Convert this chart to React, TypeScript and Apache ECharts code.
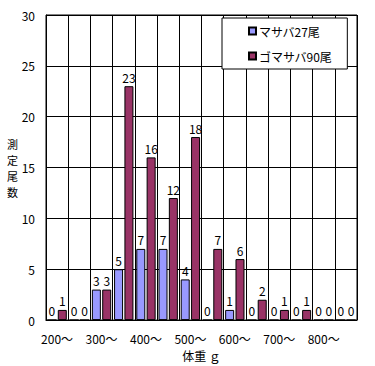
import React, { useEffect, useRef } from "react";
import * as echarts from "echarts";

const categories = ["200～", "250～", "300～", "350～", "400～", "450～", "500～", "550～", "600～", "650～", "700～", "750～", "800～", "850～"];
const masaba = [0, 0, 3, 5, 7, 7, 4, 0, 1, 0, 0, 0, 0, 0];
const gomasaba = [1, 0, 3, 23, 16, 12, 18, 7, 6, 2, 1, 1, 0, 0];
const seriesNames = ["マサバ27尾", "ゴマサバ90尾"];
const yTicks = { min: 0, max: 30, interval: 5 };
const yName = ["測", "定", "尾", "数"];

const FONT = "'Noto Sans CJK JP', sans-serif";

export default function App() {
  const ref = useRef<HTMLDivElement>(null);
  useEffect(() => {
    if (!ref.current) return;
    const chart = echarts.init(ref.current, undefined, { renderer: "svg" });
    const label = {
      show: true,
      position: "top" as const,
      color: "#000",
      fontSize: 12,
      fontFamily: FONT,
      distance: 3,
    };
    chart.setOption({
      animation: false,
      backgroundColor: "#fff",
      textStyle: { fontFamily: FONT },
      grid: {
        left: 46,
        right: 18,
        top: 15,
        bottom: 45,
        show: true,
        borderColor: "#000",
        borderWidth: 1,
      },
      legend: {
        orient: "vertical",
        left: 222,
        top: 18,
        backgroundColor: "#fff",
        borderColor: "#000",
        borderWidth: 1,
        borderRadius: 0,
        padding: [7, 15, 7, 26],
        itemGap: 13,
        itemWidth: 7,
        itemHeight: 7,
        icon: "rect",
        textStyle: { color: "#000", fontSize: 12, fontFamily: FONT, padding: [0, 0, 0, -2] },
        data: seriesNames,
      },
      xAxis: {
        type: "category",
        data: categories,
        name: "体重 ｇ",
        nameLocation: "middle",
        nameGap: 22,
        nameTextStyle: { color: "#000", fontSize: 12, fontFamily: FONT },
        axisLine: { lineStyle: { color: "#000" } },
        axisTick: { show: false },
        axisLabel: { interval: 1, color: "#000", fontSize: 12, fontFamily: FONT, margin: 12 },
        splitLine: { show: true, interval: 0, lineStyle: { color: "#000", width: 1 } },
      },
      yAxis: {
        type: "value",
        min: yTicks.min,
        max: yTicks.max,
        interval: yTicks.interval,
        axisLine: { show: true, lineStyle: { color: "#000" } },
        axisTick: { show: false },
        axisLabel: { color: "#000", fontSize: 12, fontFamily: FONT, margin: 11 },
        splitLine: { show: true, lineStyle: { color: "#000", width: 1 } },
      },
      graphic: yName.map((ch, i) => ({
        type: "text",
        x: 7,
        y: 138 + i * 16,
        style: {
          text: ch,
          fill: "#000",
          fontSize: 11,
          fontFamily: FONT,
        },
      })),
      series: [
        {
          name: seriesNames[0],
          type: "bar",
          data: masaba,
          barWidth: 9,
          barGap: "15%",
          itemStyle: { color: "#9999FF", borderColor: "#000", borderWidth: 1 },
          label,
        },
        {
          name: seriesNames[1],
          type: "bar",
          data: gomasaba,
          barWidth: 9,
          itemStyle: { color: "#993366", borderColor: "#000", borderWidth: 1 },
          label,
        },
      ],
    });
    return () => chart.dispose();
  }, []);
  return <div ref={ref} style={{ position: "absolute", left: 0, top: 0, width: 375, height: 366 }} />;
}
